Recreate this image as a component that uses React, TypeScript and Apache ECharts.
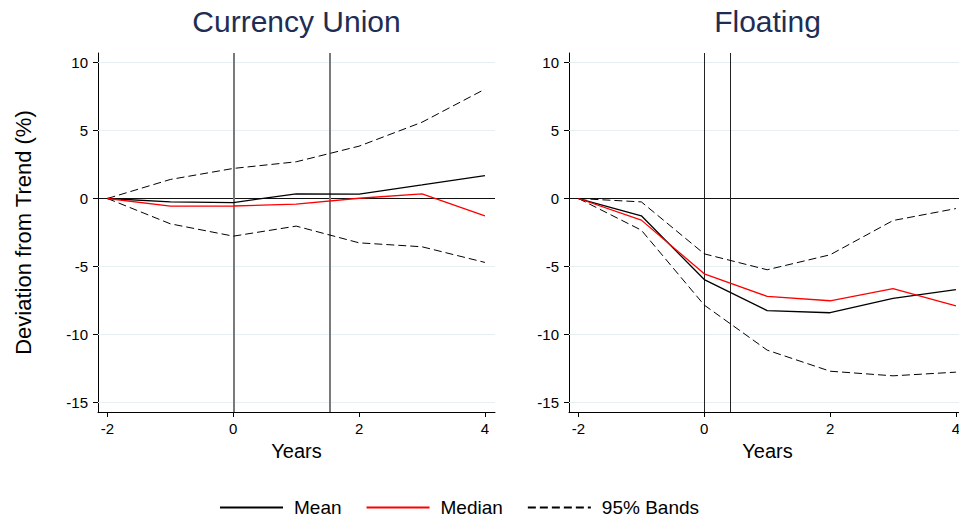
import React, { useEffect, useRef } from "react";
import * as echarts from "echarts";

// ---- data ----
const years = [-2, -1, 0, 1, 2, 3, 4];
const xTicks = [-2, 0, 2, 4];
const yTicks = [-15, -10, -5, 0, 5, 10];
const panelTitles = ["Currency Union", "Floating"];
const legendNames = ["Mean", "Median", "95% Bands"];

const cuMean = [0, -0.25, -0.3, 0.34, 0.32, 1.0, 1.69];
const cuMedian = [0, -0.56, -0.55, -0.42, 0.02, 0.34, -1.27];
const cuUpper = [0, 1.4, 2.21, 2.7, 3.85, 5.61, 8.04];
const cuLower = [0, -1.86, -2.77, -2.03, -3.26, -3.55, -4.7];
const cuEvents = [0, 1.54];

const flMean = [0, -1.27, -5.96, -8.24, -8.4, -7.35, -6.7];
const flMedian = [0, -1.59, -5.54, -7.2, -7.52, -6.62, -7.89];
const flUpper = [0, -0.25, -4.07, -5.24, -4.14, -1.62, -0.74];
const flLower = [0, -2.33, -7.84, -11.15, -12.7, -13.04, -12.77];
const flEvents = [0, 0.41];

const panels = [
  { mean: cuMean, median: cuMedian, upper: cuUpper, lower: cuLower, events: cuEvents, eventColor: "#7a7a7a", eventWidth: 2 },
  { mean: flMean, median: flMedian, upper: flUpper, lower: flLower, events: flEvents, eventColor: "#222222", eventWidth: 1 },
];

const FONT = "'Liberation Sans', Arial, Helvetica, sans-serif";

function pairs(vals: number[]) {
  return years.map((y, i) => [y, vals[i]]);
}

export default function App() {
  const ref = useRef<HTMLDivElement>(null);

  useEffect(() => {
    if (!ref.current) return;
    const chart = echarts.init(ref.current, undefined, { renderer: "svg" });

    const grids = [
      { left: 98, top: 53, width: 397, height: 359 },
      { left: 569, top: 53, width: 397, height: 359 },
    ];

    const xAxes = grids.map((_, i) => ({
      type: "value",
      gridIndex: i,
      min: -2.15,
      max: 4.16,
      name: "Years",
      nameLocation: "middle",
      nameGap: 27,
      nameTextStyle: { fontSize: 20, color: "#000", fontFamily: FONT },
      axisLine: { show: true, onZero: false, lineStyle: { color: "#000", width: 1 } },
      axisTick: { show: true, length: 5, customValues: xTicks, lineStyle: { color: "#000" } },
      axisLabel: { customValues: xTicks, fontSize: 15, color: "#000", margin: 9, fontFamily: FONT },
      splitLine: { show: false },
    }));

    const yAxes = grids.map((_, i) => ({
      type: "value",
      gridIndex: i,
      min: -15.7,
      max: 10.7,
      name: i === 0 ? "Deviation from Trend (%)" : "",
      nameLocation: "middle",
      nameGap: 64,
      nameTextStyle: { fontSize: 22, color: "#000", fontFamily: FONT },
      axisLine: { show: true, onZero: false, lineStyle: { color: "#000", width: 1 } },
      axisTick: { show: true, length: 5, customValues: yTicks, lineStyle: { color: "#000" } },
      axisLabel: { customValues: yTicks, fontSize: 15, color: "#000", margin: 10, fontFamily: FONT },
      splitLine: { show: false },
    }));

    const series: any[] = [];
    panels.forEach((p, i) => {
      const common = {
        type: "line",
        xAxisIndex: i,
        yAxisIndex: i,
        symbol: "none",
        showSymbol: false,
        silent: true,
        z: 3,
      };
      series.push({
        ...common,
        name: legendNames[2],
        data: pairs(p.upper),
        lineStyle: { color: "#000", width: 1, type: [8, 4] },
        itemStyle: { color: "#000" },
        markLine: {
          z: 1,
          silent: true,
          symbol: ["none", "none"],
          label: { show: false },
          lineStyle: { color: "#e6eff1", width: 1, type: "solid" },
          data: yTicks.map((v) => ({ yAxis: v })),
        },
      });
      series.push({
        ...common,
        name: legendNames[2],
        data: pairs(p.lower),
        lineStyle: { color: "#000", width: 1, type: [8, 4] },
        itemStyle: { color: "#000" },
        markLine: {
          z: 2,
          silent: true,
          symbol: ["none", "none"],
          label: { show: false },
          data: [
            { yAxis: 0, lineStyle: { color: "#111", width: 1, type: "solid" } },
            ...p.events.map((v) => ({
              xAxis: v,
              lineStyle: { color: p.eventColor, width: p.eventWidth, type: "solid" },
            })),
          ],
        },
      });
      series.push({
        ...common,
        name: legendNames[0],
        data: pairs(p.mean),
        lineStyle: { color: "#000", width: 1.3 },
        itemStyle: { color: "#000" },
      });
      series.push({
        ...common,
        name: legendNames[1],
        data: pairs(p.median),
        lineStyle: { color: "#ff0000", width: 1.3 },
        itemStyle: { color: "#ff0000" },
      });
    });

    const option: any = {
      animation: false,
      backgroundColor: "#ffffff",
      textStyle: { fontFamily: FONT },
      grid: grids,
      xAxis: xAxes,
      yAxis: yAxes,
      legend: {
        data: legendNames,
        left: 214,
        top: 493,
        itemWidth: 63,
        itemHeight: 14,
        itemGap: 24,
        selectedMode: false,
        itemStyle: { opacity: 0 },
        textStyle: { fontSize: 19, color: "#000", fontFamily: FONT, padding: [0, 0, 0, 6] },
      },
      graphic: panelTitles.map((t, i) => ({
        type: "text",
        x: grids[i].left + grids[i].width / 2,
        y: 21,
        style: {
          text: t,
          align: "center",
          verticalAlign: "middle",
          fontSize: 30,
          fill: "#1e2d54",
          fontFamily: FONT,
        },
      })),
      series,
    };

    chart.setOption(option);
    return () => chart.dispose();
  }, []);

  return (
    <div
      style={{
        position: "fixed",
        left: 0,
        top: 0,
        width: 959,
        height: 520,
        overflow: "hidden",
        background: "#fff",
      }}
    >
      <div ref={ref} style={{ width: 985, height: 520 }} />
    </div>
  );
}
